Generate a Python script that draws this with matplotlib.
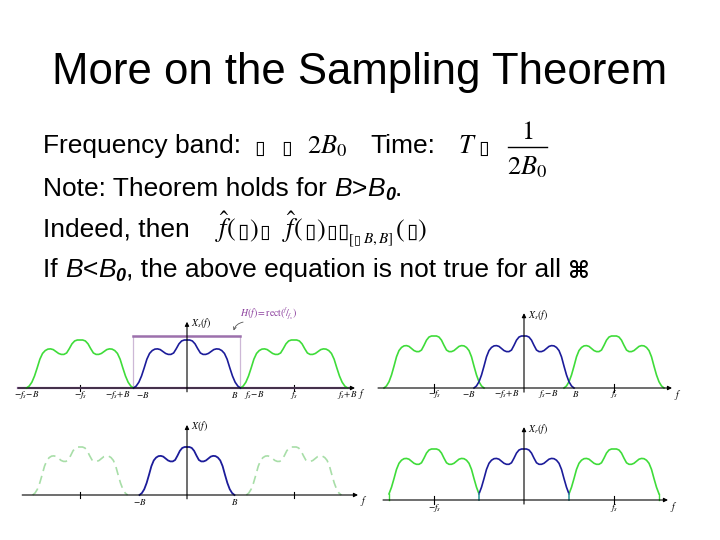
import matplotlib
matplotlib.use('Agg')
import matplotlib.pyplot as plt
from matplotlib.lines import Line2D
import numpy as np

W, H = 720, 540

# spectrum X(f): offset from band centre (units of B) and height (relative to peak)
shape_u = [-1.0, -0.95, -0.9, -0.85, -0.8, -0.75, -0.7, -0.65, -0.6, -0.55, -0.5,
           -0.45, -0.4, -0.35, -0.3, -0.25, -0.2, -0.15, -0.1, -0.05, 0.0,
           0.05, 0.1, 0.15, 0.2, 0.25, 0.3, 0.35, 0.4, 0.45, 0.5,
           0.55, 0.6, 0.65, 0.7, 0.75, 0.8, 0.85, 0.9, 0.95, 1.0]
shape_h = [0.0, 0.04, 0.12, 0.25, 0.42, 0.60, 0.72, 0.78, 0.81, 0.815, 0.80,
           0.76, 0.72, 0.70, 0.70, 0.73, 0.82, 0.92, 0.98, 1.0, 1.0,
           1.0, 0.98, 0.92, 0.82, 0.73, 0.70, 0.70, 0.72, 0.76, 0.80,
           0.815, 0.81, 0.78, 0.72, 0.60, 0.42, 0.25, 0.12, 0.04, 0.0]

# sampling rate (units of B) for each panel
fs_tl = 2.0    # fs = 2B
fs_tr = 1.8    # fs < 2B, aliasing
fs_bl = 2.25   # fs > 2B
fs_br = 1.8    # reconstructed from aliased spectrum
rect_h = 1.08  # height of H(f) window

tl_labels = [r'$-f_s\!-\!B$', r'$-f_s$', r'$-f_s\!+\!B$', r'$-B$', r'$B$',
             r'$f_s\!-\!B$', r'$f_s$', r'$f_s\!+\!B$']
tr_labels = [r'$-f_s$', r'$-B$', r'$-f_s\!+\!B$', r'$f_s\!-\!B$', r'$B$', r'$f_s$']
bl_labels = [r'$-B$', r'$B$']
br_labels = [r'$-f_s$', r'$f_s$']

GREEN = '#3fdc3a'
PALE = '#a8dea8'
BLUE = '#1c1c9a'
TEAL = '#3a9c9c'
PURPLE = '#9c70ac'

plt.rcParams['mathtext.fontset'] = 'stix'
fig = plt.figure(figsize=(7.2, 5.4), dpi=100)
u = np.array(shape_u)
h = np.array(shape_h)


def panel(ox, oy, sx, sy):
    # origin at pixel (ox, oy), sx / sy pixels per unit
    xlim, ylim = (-3.8, 3.8), (-0.5, 1.7)
    left = ox + xlim[0] * sx
    bottom = oy - ylim[0] * sy
    ax = fig.add_axes([left / W, 1 - bottom / H,
                       (xlim[1] - xlim[0]) * sx / W, (ylim[1] - ylim[0]) * sy / H])
    ax.set_xlim(xlim)
    ax.set_ylim(ylim)
    ax.axis('off')
    return ax


def axes_lines(ax, x0, x1, ytop, fs, ylab):
    ap = dict(arrowstyle='-|>', color='k', lw=0.8, mutation_scale=6, shrinkA=0, shrinkB=0)
    ax.annotate('', xy=(x1, 0), xytext=(x0, 0), arrowprops=ap)
    ax.annotate('', xy=(0, ytop), xytext=(0, -0.08), arrowprops=ap)
    for t in (-fs, fs):
        ax.plot([t, t], [-0.07, 0.07], color='k', lw=0.8)
    ax.text(x1 + 0.05, -0.13, r'$f$', fontsize=7, ha='left', va='center')
    ax.text(0.08, ytop - 0.03, ylab, fontsize=7, ha='left', va='center')


def labels(ax, names, xs, has, y):
    for s, x, ha in zip(names, xs, has):
        ax.text(x, y, s, fontsize=6.5, ha=ha, va='center')


# ---- top left: fs = 2B with ideal low pass H(f)
ax = panel(187, 388, 53.5, 48)
axes_lines(ax, -3.16, 3.14, 1.38, fs_tl, r'$X_s(f)$')
ax.plot([-3.16, 3.05], [0, 0], color=PURPLE, lw=1.6)
ax.plot([-1, -1], [0, rect_h], color='#cdb8d6', lw=0.9)
ax.plot([1, 1], [0, rect_h], color='#cdb8d6', lw=0.9)
ax.plot([-1, 1], [rect_h, rect_h], color=PURPLE, lw=1.8)
for c in (-fs_tl, fs_tl):
    ax.plot(u + c, h, color=GREEN, lw=1.2)
ax.plot(u, h, color=BLUE, lw=1.2)
labels(ax, tl_labels,
       [-fs_tl - 1, -fs_tl, -fs_tl + 1 - 0.06, -1 + 0.04, 1 - 0.04, fs_tl - 1 + 0.06, fs_tl, fs_tl + 1],
       ['center', 'center', 'right', 'left', 'right', 'left', 'center', 'center'], -0.15)
ax.text(1.0, 1.57, r'$H(f) = \mathrm{rect}(^{f}\!/_{f_s})$', fontsize=7, color='#8a3c9c',
        ha='left', va='center')
ax.annotate('', xy=(0.86, 1.14), xytext=(1.1, 1.38),
            arrowprops=dict(arrowstyle='->', color='#555555', lw=0.6,
                            connectionstyle='arc3,rad=0.4', mutation_scale=5))

# ---- top right: fs < 2B, overlapping copies
ax = panel(524, 388, 50, 52)
axes_lines(ax, -2.92, 2.96, 1.44, fs_tr, r'$X_s(f)$')
for c in (-fs_tr, fs_tr):
    ax.plot(u + c, h, color=GREEN, lw=1.2)
ax.plot(u, h, color=BLUE, lw=1.2)
labels(ax, tr_labels,
       [-fs_tr, -1 + 0.02, -fs_tr + 1 + 0.2, fs_tr - 1 - 0.1, 1 - 0.04, fs_tr],
       ['center', 'right', 'left', 'right', 'left', 'center'], -0.12)

# ---- bottom left: fs > 2B, copies dashed
ax = panel(187, 495, 47.5, 48)
axes_lines(ax, -3.47, 3.6, 1.46, fs_bl, r'$X(f)$')
for c in (-fs_bl, fs_bl):
    ax.plot(u + c, h, color=PALE, lw=1.2, ls=(0, (5, 3)))
ax.plot(u, h, color=BLUE, lw=1.3)
labels(ax, bl_labels, [-1, 1], ['center', 'center'], -0.14)

# ---- bottom right: each copy cut at +-fs/2
ax = panel(524, 500, 50, 51)
axes_lines(ax, -2.82, 2.88, 1.43, fs_br, r'$X_r(f)$')
keep = np.abs(u) <= fs_br / 2 + 1e-9
ue, he = u[keep], h[keep]
for c in (-fs_br, fs_br):
    ax.plot(ue + c, he, color=GREEN, lw=1.2)
    ax.plot([c + ue[0]] * 2 if c < 0 else [c + ue[-1]] * 2, [0, he[0]], color=GREEN, lw=1.0)
ax.plot(ue, he, color=BLUE, lw=1.2)
for e in (ue[0], ue[-1]):
    ax.plot([e, e], [0, he[0]], color=TEAL, lw=1.2)
labels(ax, br_labels, [-fs_br, fs_br], ['center', 'center'], -0.15)

# ---- slide text
renderer = fig.canvas.get_renderer()


def put(x, y, s, **kw):
    kw.setdefault('fontsize', 19)
    kw.setdefault('family', 'Liberation Sans')
    t = fig.text(x / W, 1 - y / H, s, va='baseline', **kw)
    return x + t.get_window_extent(renderer).width


fig.text(0.5, 1 - 84 / H, 'More on the Sampling Theorem', ha='center', va='baseline',
         fontsize=31.5, family='Liberation Sans')

box = dict(family='DejaVu Sans', fontsize=14)
ibox = dict(family='DejaVu Sans', fontsize=15, style='oblique')

# line 1
put(43, 153, 'Frequency band:')
put(254, 154, '\u25af', **box)
put(281, 154, '\u25af', **box)
put(307, 153, r'$2B_0$')
put(370, 153, 'Time:')
put(458, 153, r'$T$')
put(478, 154, '\u25af', **box)
fig.text(527 / W, 1 - 139 / H, r'$1$', ha='center', va='baseline', fontsize=19)
fig.text(527 / W, 1 - 174 / H, r'$2B_0$', ha='center', va='baseline', fontsize=19)
fig.add_artist(Line2D([508 / W, 547 / W], [1 - 147 / H, 1 - 147 / H], color='k', lw=1.0))

# line 2
x = put(43, 196, 'Note: Theorem holds for ')
x = put(x, 196, 'B', style='italic')
x = put(x, 196, '>')
x = put(x, 196, 'B', style='italic')
x = put(x, 200, '0', fontsize=13, style='italic', weight='bold')
put(x, 196, '.')

# line 3
x = put(43, 237, 'Indeed, then')
x = put(215, 237, r'$\hat{f}($')
x = put(x + 1, 238, '\u25af', **ibox)
x = put(x, 237, r'$)$')
x = put(x + 1, 238, '\u25af', **box)
x = put(x + 12, 237, r'$\hat{f}($')
x = put(x + 1, 238, '\u25af', **ibox)
x = put(x, 237, r'$)$')
x = put(x + 1, 238, '\u25af', **box)
x = put(x, 238, '\u25af', **ibox)
x = put(x, 243, '[', family='Liberation Serif', fontsize=11)
x = put(x, 243, '\u25af', family='DejaVu Sans', fontsize=9)
x = put(x + 3, 243, r'$B,B]$', fontsize=11)
x = put(x + 1, 237, r'$($')
x = put(x + 1, 238, '\u25af', **ibox)
put(x, 237, r'$)$')

# line 4
x = put(43, 277, 'If ')
x = put(x, 277, 'B', style='italic')
x = put(x, 277, '<')
x = put(x, 277, 'B', style='italic')
x = put(x, 281, '0', fontsize=13, style='italic', weight='bold')
x = put(x, 277, ', the above equation is not true for all ')
put(x, 278, '\u2318', family='DejaVu Sans', weight='bold', fontsize=17)

fig.savefig('out.png', dpi=100)
